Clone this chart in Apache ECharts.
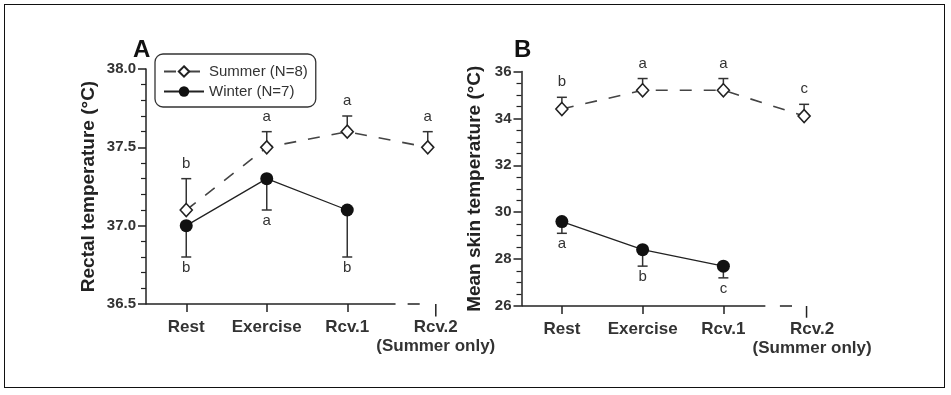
<!DOCTYPE html>
<html>
<head>
<meta charset="utf-8">
<script src="https://cdn.jsdelivr.net/npm/echarts@6/dist/echarts.min.js"></script>
<style>
html,body{margin:0;padding:0;background:#fff;}
#frame{position:absolute;left:4px;top:4px;width:939px;height:382px;border:1.5px solid #111;box-sizing:content-box;}
#chart{position:absolute;left:0;top:0;width:951px;height:395px;}
</style>
</head>
<body>
<div id="frame"></div>
<div id="chart"></div>
<script>
// ---- data ----
const categories = ['Rest', 'Exercise', 'Rcv.1', 'Rcv.2\n(Summer only)'];
const summerName = 'Summer (N=8)';
const winterName = 'Winter (N=7)';

// Panel A: rectal temperature
const rectalSummer = [37.1, 37.5, 37.6, 37.5];
const rectalSummerErr = [37.3, 37.6, 37.7, 37.6];
const rectalSummerLetters = ['b', 'a', 'a', 'a'];
const rectalWinter = [37.0, 37.3, 37.1];
const rectalWinterErr = [36.8, 37.1, 36.8];
const rectalWinterLetters = ['b', 'a', 'b'];

// Panel B: mean skin temperature
const skinSummer = [34.4, 35.2, 35.2, 34.1];
const skinSummerErr = [34.9, 35.7, 35.7, 34.6];
const skinSummerLetters = ['b', 'a', 'a', 'c'];
const skinWinter = [29.6, 28.4, 27.7];
const skinWinterErr = [29.1, 27.7, 27.2];
const skinWinterLetters = ['a', 'b', 'c'];

// ---- chart ----
const FONT = 'Liberation Sans, Arial, Helvetica, sans-serif';
const INK = '#222';
const chart = echarts.init(document.getElementById('chart'), null, {renderer: 'canvas'});

function errData(vals, errs, letters) {
  return vals.map((v, i) => [i, v, errs[i], letters[i]]);
}

function errSeries(xi, yi, vals, errs, letters, dir) {
  return {
    type: 'custom',
    xAxisIndex: xi, yAxisIndex: yi,
    silent: true, z: 1,
    data: errData(vals, errs, letters),
    renderItem: function (params, api) {
      const x = api.value(0);
      const p0 = api.coord([x, api.value(1)]);
      const p1 = api.coord([x, api.value(2)]);
      const letter = letters[params.dataIndex];
      const ty = dir > 0 ? p1[1] - 15 : p1[1] + 11;
      return {
        type: 'group',
        children: [
          {type: 'line', shape: {x1: p0[0], y1: p0[1], x2: p1[0], y2: p1[1]}, style: {stroke: '#333', lineWidth: 1.5}},
          {type: 'line', shape: {x1: p1[0] - 5, y1: p1[1], x2: p1[0] + 5, y2: p1[1]}, style: {stroke: '#333', lineWidth: 1.5}},
          {type: 'text', style: {text: letter, x: p1[0], y: ty, align: 'center', verticalAlign: 'middle', font: '15px ' + FONT, fill: '#333'}}
        ]
      };
    }
  };
}

function summerLine(xi, yi, vals) {
  return {
    name: summerName, type: 'line', xAxisIndex: xi, yAxisIndex: yi, z: 3,
    data: vals, symbol: 'diamond', symbolSize: [12, 13], silent: true,
    itemStyle: {color: '#fff', borderColor: INK, borderWidth: 1.6},
    lineStyle: {color: '#444', width: 1.6, type: [12, 12]},
    animation: false
  };
}
function winterLine(xi, yi, vals) {
  return {
    name: winterName, type: 'line', xAxisIndex: xi, yAxisIndex: yi, z: 3,
    data: vals, symbol: 'circle', symbolSize: 13, silent: true,
    itemStyle: {color: '#111', borderColor: '#111', borderWidth: 0},
    lineStyle: {color: '#222', width: 1.3, type: 'solid'},
    animation: false
  };
}
// broken baseline pieces drawn on a hidden value x axis
function baseSeg(xi, yi, pts, w) {
  return {
    type: 'line', xAxisIndex: xi, yAxisIndex: yi, data: pts, symbol: 'none', silent: true,
    clip: false, z: 2, lineStyle: {color: '#222', width: w || 1.5}, animation: false, legendHoverLink: false
  };
}

function catAxis(grid) {
  return {
    type: 'category', gridIndex: grid, data: categories, boundaryGap: true,
    axisLine: {show: false, onZero: false},
    axisTick: {show: true, alignWithLabel: true, length: 8, interval: function (i) { return i < 3; }, lineStyle: {color: '#222', width: 1.5}},
    axisLabel: {
      interval: 0, margin: 14, color: '#333', fontFamily: FONT, fontWeight: 'bold', fontSize: 17, lineHeight: 19,
      formatter: function (v, i) { return i === 3 ? '{r|' + v.replace('\n', '}\n{r|') + '}' : v; },
      rich: {r: {fontFamily: FONT, fontWeight: 'bold', fontSize: 17, lineHeight: 19, color: '#333', padding: [0, 0, 0, 16]}}
    },
    splitLine: {show: false}
  };
}
function hidAxis(grid) {
  return {type: 'value', gridIndex: grid, min: -0.5, max: 3.5, show: false, axisLine: {onZero: false}};
}
function valAxis(grid, min, max, interval, split, name, gap) {
  return {
    type: 'value', gridIndex: grid, min: min, max: max, interval: interval,
    name: name, nameLocation: 'middle', nameGap: gap, nameRotate: 90,
    nameTextStyle: {fontFamily: FONT, fontWeight: 'bold', fontSize: 19, color: '#222'},
    axisLine: {show: true, onZero: false, lineStyle: {color: '#222', width: 1.5}},
    axisTick: {show: true, length: 8, lineStyle: {color: '#222', width: 1.5}},
    minorTick: {show: true, splitNumber: split, length: 5, lineStyle: {color: '#222', width: 1.2}},
    axisLabel: {
      color: '#333', fontFamily: FONT, fontWeight: 'bold', fontSize: 15, margin: 10,
      formatter: function (v) { return interval < 1 ? v.toFixed(1) : String(v); }
    },
    splitLine: {show: false}
  };
}

const option = {
  backgroundColor: 'transparent',
  animation: false,
  title: [
    {text: 'A', left: 128, top: 33, textStyle: {fontFamily: FONT, fontWeight: 'bold', fontSize: 24, color: '#111'}},
    {text: 'B', left: 509, top: 33, textStyle: {fontFamily: FONT, fontWeight: 'bold', fontSize: 24, color: '#111'}}
  ],
  legend: {
    data: [summerName, winterName],
    orient: 'vertical', left: 155, top: 54,
    padding: [10, 8, 8, 8], itemGap: 5, itemWidth: 40, itemHeight: 13,
    borderColor: '#333', borderWidth: 1.3, borderRadius: 8, backgroundColor: '#fff',
    textStyle: {fontFamily: FONT, fontSize: 15, color: '#333'},
    selectedMode: false
  },
  grid: [
    {left: 146, top: 69, width: 322, height: 235},
    {left: 521.5, top: 71.5, width: 323, height: 234.5}
  ],
  xAxis: [catAxis(0), catAxis(1), hidAxis(0), hidAxis(1)],
  yAxis: [
    valAxis(0, 36.5, 38.0, 0.5, 5, 'Rectal temperature (°C)', 48),
    valAxis(1, 26, 36, 2, 4, 'Mean skin temperature (°C)', 37)
  ],
  series: [
    errSeries(0, 0, rectalSummer, rectalSummerErr, rectalSummerLetters, 1),
    errSeries(0, 0, rectalWinter, rectalWinterErr, rectalWinterLetters, -1),
    summerLine(0, 0, rectalSummer),
    winterLine(0, 0, rectalWinter),
    errSeries(1, 1, skinSummer, skinSummerErr, skinSummerLetters, 1),
    errSeries(1, 1, skinWinter, skinWinterErr, skinWinterLetters, -1),
    summerLine(1, 1, skinSummer),
    winterLine(1, 1, skinWinter),
    baseSeg(2, 0, [[-0.5, 36.5], [2.6, 36.5]]),
    baseSeg(2, 0, [[2.75, 36.5], [2.9, 36.5]]),
    baseSeg(2, 0, [[3.1, 36.5], [3.1, 36.42]]),
    baseSeg(3, 1, [[-0.5, 26], [2.52, 26]]),
    baseSeg(3, 1, [[2.7, 26], [2.85, 26]]),
    baseSeg(3, 1, [[3.03, 26], [3.03, 25.5]])
  ]
};
chart.setOption(option);
</script>
</body>
</html>
